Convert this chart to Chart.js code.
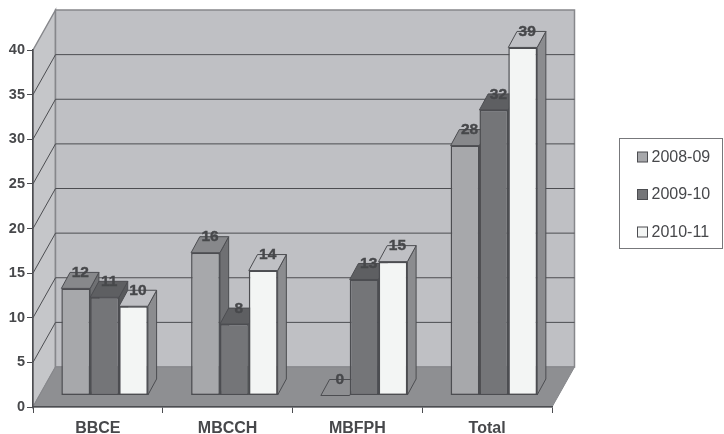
<!DOCTYPE html>
<html>
<head>
<meta charset="utf-8">
<title>Enrolment by programme</title>
<script src="https://cdn.jsdelivr.net/npm/chart.js@4"></script>
<style>
  html, body { margin: 0; padding: 0; background: #fff; }
  canvas { display: block; }
</style>
</head>
<body>
<canvas id="barChart" width="724" height="434"></canvas>
<script>
const categories = ["BBCE", "MBCCH", "MBFPH", "Total"];
const seriesNames = ["2008-09", "2009-10", "2010-11"];
const values0809 = [12, 16, 0, 28];
const values0910 = [11, 8, 13, 32];
const values1011 = [10, 14, 15, 39];
const yTicksMax = 40;
const yTickStep = 5;

const frontColors = ["#a7a8ab", "#747578", "#f3f5f4"];
const topColors = ["#87888b", "#5e5f62", "#bfc0c4"];
const sideColors = ["#6f7073", "#58595c", "#8b8c8f"];

const inkColor = "#47484b";
const lineColor = "#4c4d51";
const wallEdge = "#86878b";
const wallBack = "#bfc0c4";
const wallLeft = "#c5c6c9";
const floorColor = "#8e8f92";

// depth of the whole box, and of each bar inside it
const boxDepth = { x: 22.5, y: 40 };
const barShift = { x: 6.75, y: 11.5 };
const barDepth = { x: 8.7, y: 16 };

function poly(ctx, pts, fill, stroke, width) {
  ctx.beginPath();
  pts.forEach((p, i) => (i ? ctx.lineTo(p[0], p[1]) : ctx.moveTo(p[0], p[1])));
  ctx.closePath();
  if (fill) {
    ctx.fillStyle = fill;
    ctx.fill();
  }
  if (stroke) {
    ctx.strokeStyle = stroke;
    ctx.lineWidth = width || 1;
    ctx.stroke();
  }
}

// back wall, side wall, floor and the grid on them
const boxPlugin = {
  id: "box3d",
  beforeDraw(chart) {
    const { ctx, chartArea: a, scales } = chart;
    const dx = boxDepth.x;
    const dy = boxDepth.y;
    ctx.save();
    poly(ctx, [[a.left, a.top], [a.left + dx, a.top - dy], [a.left + dx, a.bottom - dy], [a.left, a.bottom]], wallLeft, wallEdge, 1.5);
    poly(ctx, [[a.left + dx, a.top - dy], [a.right + dx, a.top - dy], [a.right + dx, a.bottom - dy], [a.left + dx, a.bottom - dy]], wallBack, wallEdge, 1.5);
    poly(ctx, [[a.left, a.bottom], [a.right, a.bottom], [a.right + dx, a.bottom - dy], [a.left + dx, a.bottom - dy]], floorColor, wallEdge, 1);

    ctx.strokeStyle = lineColor;
    ctx.lineWidth = 1;
    scales.y.ticks.forEach((t) => {
      if (t.value === 0 || t.value === yTicksMax) return;
      const y = scales.y.getPixelForValue(t.value);
      ctx.beginPath();
      ctx.moveTo(a.left, y);
      ctx.lineTo(a.left + dx, y - dy);
      ctx.lineTo(a.right + dx, y - dy);
      ctx.stroke();
    });
    ctx.restore();
  },
  // tops and sides go first, the library then paints the front faces over them
  beforeDatasetsDraw(chart) {
    const { ctx } = chart;
    ctx.save();
    ctx.translate(barShift.x, -barShift.y);
    chart.data.datasets.forEach((ds, di) => {
      chart.getDatasetMeta(di).data.forEach((bar) => {
        const { x, y, width, base } = bar.getProps(["x", "y", "width", "base"]);
        const l = x - width / 2;
        const r = x + width / 2;
        const dx = barDepth.x;
        const dy = barDepth.y;
        if (base - y > 0) {
          poly(ctx, [[r, y], [r + dx, y - dy], [r + dx, base - dy], [r, base]], sideColors[di], lineColor, 1);
          poly(ctx, [[l, y], [l + dx, y - dy], [r + dx, y - dy], [r, y]], topColors[di], lineColor, 1);
        } else {
          // nothing to show for an empty bar but its outline on the floor
          poly(ctx, [[l, y], [l + dx, y - dy], [r + dx, y - dy], [r, y]], null, lineColor, 1);
        }
      });
    });
    ctx.restore();
  },
  beforeDatasetDraw(chart) {
    chart.ctx.save();
    chart.ctx.translate(barShift.x, -barShift.y);
  },
  afterDatasetDraw(chart) {
    chart.ctx.restore();
  },
  afterDatasetsDraw(chart) {
    const { ctx } = chart;
    ctx.save();
    ctx.font = "bold 15.5px 'Liberation Sans', Arial, sans-serif";
    ctx.fillStyle = inkColor;
    ctx.strokeStyle = inkColor;
    ctx.lineWidth = 0.4;
    ctx.textAlign = "center";
    ctx.textBaseline = "middle";
    chart.data.datasets.forEach((ds, di) => {
      chart.getDatasetMeta(di).data.forEach((bar, i) => {
        const { x, y } = bar.getProps(["x", "y"]);
        const tx = x + barShift.x + 4.5;
        const ty = y - barShift.y - 15.5;
        ctx.fillText(String(ds.data[i]), tx, ty);
        ctx.strokeText(String(ds.data[i]), tx, ty);
      });
    });
    ctx.restore();
  },
  // legend box sits off to the right of the plot
  afterDraw(chart) {
    const { ctx } = chart;
    const box = { x: 619.5, y: 138.5, w: 103, h: 110 };
    ctx.save();
    ctx.strokeStyle = "#77787b";
    ctx.lineWidth = 1;
    ctx.strokeRect(box.x, box.y, box.w, box.h);
    ctx.font = "16px 'Liberation Sans', Arial, sans-serif";
    ctx.textBaseline = "middle";
    ctx.textAlign = "left";
    seriesNames.forEach((name, i) => {
      const cy = box.y + 18.5 + i * 37.5;
      ctx.fillStyle = frontColors[i];
      ctx.fillRect(box.x + 18, cy - 5, 10, 10);
      ctx.strokeStyle = lineColor;
      ctx.strokeRect(box.x + 18, cy - 5, 10, 10);
      ctx.fillStyle = inkColor;
      ctx.fillText(name, box.x + 32, cy + 0.5);
    });
    ctx.restore();
  }
};

const allSeries = [values0809, values0910, values1011];

new Chart(document.getElementById("barChart"), {
  type: "bar",
  data: {
    labels: categories,
    datasets: allSeries.map((vals, i) => ({
      label: seriesNames[i],
      data: vals,
      backgroundColor: frontColors[i],
      borderColor: lineColor,
      borderWidth: 1.5,
      borderSkipped: false,
      clip: false,
      categoryPercentage: 0.667,
      barPercentage: 1
    }))
  },
  options: {
    responsive: false,
    animation: false,
    layout: { padding: { top: 50, right: 172, left: 0, bottom: 0 } },
    plugins: {
      legend: { display: false },
      tooltip: { enabled: false }
    },
    scales: {
      x: {
        afterFit(scale) { scale.height = 27; },
        grid: { drawOnChartArea: false, drawTicks: true, tickLength: 6, color: lineColor, lineWidth: 1 },
        border: { color: lineColor, width: 1.5 },
        ticks: {
          color: inkColor,
          padding: 6,
          maxRotation: 0,
          font: { family: "'Liberation Sans', Arial, sans-serif", size: 16, weight: "bold" }
        }
      },
      y: {
        min: 0,
        max: yTicksMax,
        afterFit(scale) { scale.width = 33; },
        grid: { drawOnChartArea: false, drawTicks: true, tickLength: 6, color: lineColor, lineWidth: 1 },
        border: { color: lineColor, width: 1.5 },
        ticks: {
          stepSize: yTickStep,
          color: inkColor,
          padding: 2,
          font: { family: "'Liberation Sans', Arial, sans-serif", size: 14.5, weight: "bold" }
        }
      }
    }
  },
  plugins: [boxPlugin]
});
</script>
</body>
</html>
